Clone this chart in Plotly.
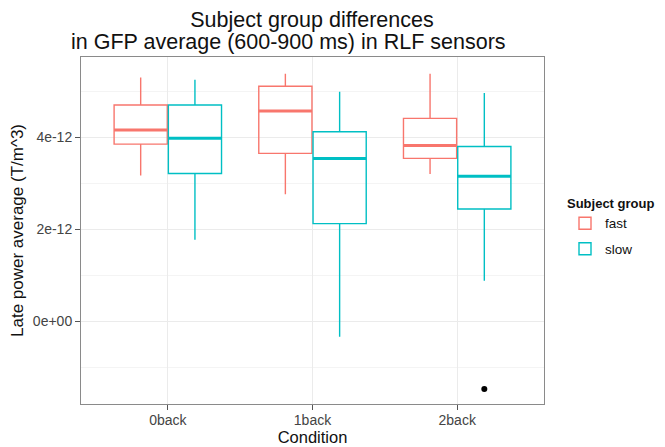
import plotly.graph_objects as go

# ---- data ----
conditions = ["0back", "1back", "2back"]
groups = ["fast", "slow"]

fast_lower = [3.17e-12, 2.76e-12, 3.20e-12]
fast_q1 = [3.85e-12, 3.65e-12, 3.54e-12]
fast_median = [4.16e-12, 4.57e-12, 3.82e-12]
fast_q3 = [4.70e-12, 5.11e-12, 4.41e-12]
fast_upper = [5.30e-12, 5.38e-12, 5.38e-12]

slow_lower = [1.77e-12, -0.34e-12, 0.88e-12]
slow_q1 = [3.21e-12, 2.12e-12, 2.44e-12]
slow_median = [3.98e-12, 3.54e-12, 3.15e-12]
slow_q3 = [4.70e-12, 4.12e-12, 3.80e-12]
slow_upper = [5.25e-12, 4.99e-12, 4.96e-12]

outlier_condition = ["2back"]
outlier_group = ["slow"]
outlier_value = [-1.48e-12]

title_lines = ["Subject group differences", "in GFP average (600-900 ms) in RLF sensors"]

colors = {"fast": "#F8766D", "slow": "#00BFC4"}
dodge = 0.75
box_w = dodge / 2
offsets = {"fast": -box_w / 2, "slow": box_w / 2}

stats = {
    "fast": (fast_lower, fast_q1, fast_median, fast_q3, fast_upper),
    "slow": (slow_lower, slow_q1, slow_median, slow_q3, slow_upper),
}

FONT = "Liberation Sans, Arial, Helvetica, sans-serif"
W, H = 665, 447
L, R, T, B = 81, 121, 57, 43
PH = H - T - B
PW = W - L - R

fig = go.Figure()
for g in groups:
    lo, q1, med, q3, hi = stats[g]
    xs = [i + offsets[g] for i in range(len(conditions))]
    fig.add_trace(go.Box(
        x=xs, q1=q1, median=med, q3=q3, lowerfence=lo, upperfence=hi,
        width=box_w * 0.98, whiskerwidth=0, boxpoints=False,
        line=dict(color=colors[g], width=1.4),
        fillcolor="rgba(255,255,255,0)",
        name=g, legendgroup=g, hoverinfo="skip",
    ))
    # thicker median lines (ggplot style)
    mx, my = [], []
    for x, m in zip(xs, med):
        mx += [x - box_w * 0.49, x + box_w * 0.49, None]
        my += [m, m, None]
    fig.add_trace(go.Scatter(x=mx, y=my, mode="lines",
                             line=dict(color=colors[g], width=3),
                             legendgroup=g, showlegend=False, hoverinfo="skip"))

ox = [conditions.index(c) + offsets[g] for c, g in zip(outlier_condition, outlier_group)]
fig.add_trace(go.Scatter(x=ox, y=outlier_value, mode="markers",
                         marker=dict(color="black", size=6),
                         showlegend=False, hoverinfo="skip"))

fig.update_layout(
    width=W, height=H,
    margin=dict(l=L, r=R, t=T, b=B, autoexpand=False),
    paper_bgcolor="white", plot_bgcolor="white",
    font=dict(family=FONT, color="#222"),
    boxmode="overlay",
    title=dict(
        text=title_lines[0],
        x=312 / W, xanchor="center", xref="container",
        y=1 - 19.5 / H, yanchor="middle", yref="container",
        font=dict(size=21.5, family=FONT, color="#111"),
    ),
    annotations=[dict(
        text=title_lines[1], xref="paper", yref="paper",
        x=(288.5 - L) / PW, y=(H - B - 41.5) / PH, xanchor="center", yanchor="middle",
        showarrow=False, font=dict(size=21.5, family=FONT, color="#111"),
    )],
    showlegend=True,
    legend=dict(
        title=dict(text="<b>Subject group</b>", font=dict(size=13, family=FONT, color="#111")),
        x=(565 - L) / PW, xanchor="left", y=(H - B - 191) / PH, yanchor="top",
        font=dict(size=13.5, family=FONT, color="#111"),
        bgcolor="rgba(0,0,0,0)", itemwidth=30,
        traceorder="grouped", tracegroupgap=5,
    ),
)

fig.update_xaxes(
    automargin=False,
    range=[-0.6, 2.6], tickmode="array", tickvals=list(range(len(conditions))),
    ticktext=conditions, ticks="outside", ticklen=5, tickcolor="#555",
    ticklabelstandoff=-2,
    tickfont=dict(size=14, color="#444", family=FONT),
    showgrid=True, gridcolor="#ebebeb", gridwidth=1, zeroline=False,
    showline=True, linecolor="#8a8a8a", linewidth=1, mirror=True,
    title=dict(text="Condition", font=dict(size=16.5, color="#111", family=FONT), standoff=0),
)
fig.update_yaxes(
    automargin=False,
    range=[-1.804e-12, 5.746e-12], tickmode="array",
    tickvals=[0, 2e-12, 4e-12], ticktext=["0e+00", "2e-12", "4e-12"],
    ticks="outside", ticklen=5, tickcolor="#555",
    tickfont=dict(size=14, color="#444", family=FONT),
    showgrid=True, gridcolor="#ebebeb", gridwidth=1, zeroline=False,
    minor=dict(tickmode="array", tickvals=[-1e-12, 1e-12, 3e-12, 5e-12],
               showgrid=True, gridcolor="#f4f4f4", ticks=""),
    showline=True, linecolor="#8a8a8a", linewidth=1, mirror=True,
    title=dict(text="Late power average (T/m^3)", font=dict(size=17, color="#111", family=FONT), standoff=4),
)

fig.write_html("out.html", config={"displayModeBar": False},
               post_script="document.body.style.margin='0px';")
